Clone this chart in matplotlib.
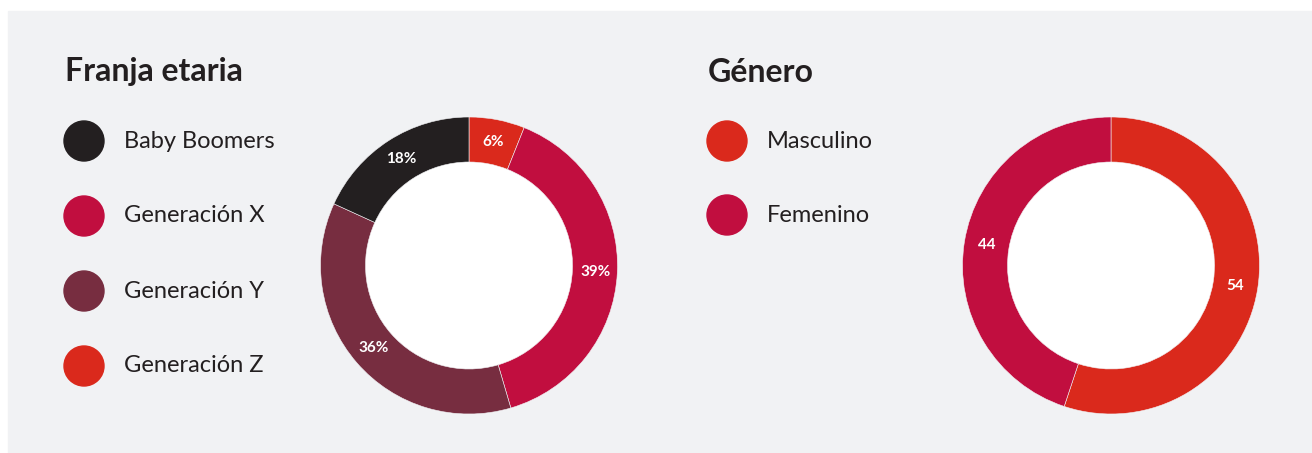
import matplotlib.pyplot as plt
from matplotlib.patches import Circle, Rectangle

plt.rcParams['font.family'] = ['Lato', 'DejaVu Sans']

# Franja etaria (percent), drawn clockwise from 12 o'clock
age_labels = ["Generación Z", "Generación X", "Generación Y", "Baby Boomers"]
age_values = [6, 39, 36, 18]
age_colors = ["#da291c", "#c10e3f", "#772d40", "#231f20"]
legend_age_order = ["Baby Boomers", "Generación X", "Generación Y", "Generación Z"]

# Género
gender_labels = ["Masculino", "Femenino"]
gender_values = [54, 44]
gender_colors = ["#da291c", "#c10e3f"]

W, H = 1312, 453
TEXT = "#231f20"
PANEL = "#f1f2f4"


def donut(ax, values, colors, fmt):
    ax.pie(
        values, colors=colors, startangle=90, counterclock=False,
        radius=1, wedgeprops=dict(width=0.303, linewidth=0.4, edgecolor=PANEL),
        autopct=lambda p: fmt(values, p), pctdistance=0.85,
        textprops=dict(color="white", fontsize=11, fontweight="bold"))
    # white hole in the middle
    ax.add_patch(Circle((0, 0), 0.697, color="white", zorder=0))
    ax.set_xlim(-1, 1)
    ax.set_ylim(-1, 1)
    ax.set_aspect("equal")
    ax.axis("off")


def value_from_pct(values, p):
    total = sum(values)
    return min(values, key=lambda v: abs(v / total * 100 - p))


def main():
    fig = plt.figure(figsize=(W / 100, H / 100), dpi=100)
    fig.patch.set_facecolor("white")

    # overlay in pixel units for the panel, titles and legends
    bg = fig.add_axes([0, 0, 1, 1])
    bg.set_xlim(0, W)
    bg.set_ylim(H, 0)
    bg.axis("off")
    bg.add_patch(Rectangle((8, 11), W - 8, H - 11, color=PANEL, zorder=0))

    bg.text(65, 72, "Franja etaria", fontsize=23, fontweight="bold",
            color=TEXT, va="center", ha="left")
    bg.text(708, 72, "Género", fontsize=23, fontweight="bold",
            color=TEXT, va="center", ha="left")

    for i, name in enumerate(legend_age_order):
        y = 141 + i * 75
        col = age_colors[age_labels.index(name)]
        bg.add_patch(Circle((84, y), 20, color=col))
        bg.text(124, y, name, fontsize=17, color=TEXT, va="center", ha="left")

    for i, name in enumerate(gender_labels):
        y = 141 + i * 74
        bg.add_patch(Circle((727, y), 20, color=gender_colors[i]))
        bg.text(767, y, name, fontsize=17, color=TEXT, va="center", ha="left")

    r = 148.5
    ax1 = fig.add_axes([(469 - r) / W, (H - 265.5 - r) / H, 2 * r / W, 2 * r / H])
    donut(ax1, age_values, age_colors,
          lambda v, p: f"{value_from_pct(v, p)}%")

    ax2 = fig.add_axes([(1111 - r) / W, (H - 265.5 - r) / H, 2 * r / W, 2 * r / H])
    donut(ax2, gender_values, gender_colors,
          lambda v, p: f"{value_from_pct(v, p)}")

    fig.savefig("out.png", dpi=100, facecolor=fig.get_facecolor())


if __name__ == "__main__":
    main()
